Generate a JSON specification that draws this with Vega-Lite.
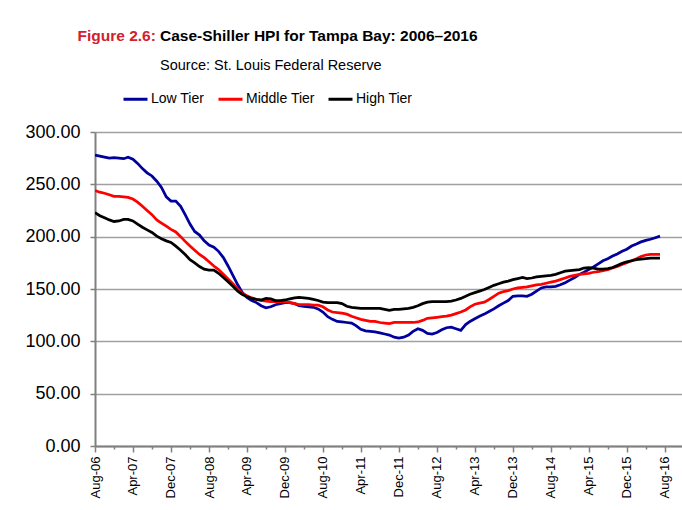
{
  "$schema": "https://vega.github.io/schema/vega-lite/v6.json",
  "width": 587,
  "height": 314,
  "autosize": {"type": "none"},
  "padding": {"left": 95, "top": 132, "right": 0, "bottom": 64},
  "background": "white",
  "config": {
    "view": {"stroke": null},
    "font": "Liberation Sans",
    "axisY": {"labelFontSize": 18}
  },
  "title": {
    "text": "Case-Shiller HPI for Tampa Bay: 2006–2016",
    "subtitle": "Source: St. Louis Federal Reserve",
    "anchor": "start",
    "frame": "group",
    "dx": 65,
    "offset": -44,
    "font": "Liberation Sans",
    "fontSize": 15.5,
    "fontWeight": "bold",
    "color": "#000000",
    "subtitleFont": "Liberation Sans",
    "subtitleFontSize": 14.5,
    "subtitleColor": "#000000",
    "subtitlePadding": 14
  },
  "data": {
    "values": [
      {"date":"2006-08","Low Tier":278,"Middle Tier":244,"High Tier":223},
      {"date":"2006-09","Low Tier":277,"Middle Tier":242.5,"High Tier":220},
      {"date":"2006-10","Low Tier":276,"Middle Tier":241.5,"High Tier":218},
      {"date":"2006-11","Low Tier":275,"Middle Tier":240,"High Tier":216},
      {"date":"2006-12","Low Tier":275.5,"Middle Tier":238.5,"High Tier":214.5},
      {"date":"2007-01","Low Tier":275,"Middle Tier":238.5,"High Tier":215},
      {"date":"2007-02","Low Tier":274.5,"Middle Tier":238,"High Tier":216.5},
      {"date":"2007-03","Low Tier":276,"Middle Tier":237.5,"High Tier":216.5},
      {"date":"2007-04","Low Tier":274,"Middle Tier":236,"High Tier":215},
      {"date":"2007-05","Low Tier":270,"Middle Tier":233,"High Tier":212},
      {"date":"2007-06","Low Tier":265,"Middle Tier":229,"High Tier":209},
      {"date":"2007-07","Low Tier":261,"Middle Tier":225,"High Tier":206.5},
      {"date":"2007-08","Low Tier":258,"Middle Tier":221,"High Tier":204},
      {"date":"2007-09","Low Tier":253,"Middle Tier":216,"High Tier":200.5},
      {"date":"2007-10","Low Tier":247,"Middle Tier":213,"High Tier":198},
      {"date":"2007-11","Low Tier":238,"Middle Tier":210,"High Tier":196},
      {"date":"2007-12","Low Tier":234,"Middle Tier":207,"High Tier":194.5},
      {"date":"2008-01","Low Tier":234,"Middle Tier":204.5,"High Tier":191},
      {"date":"2008-02","Low Tier":229,"Middle Tier":200,"High Tier":187},
      {"date":"2008-03","Low Tier":221,"Middle Tier":195.5,"High Tier":183},
      {"date":"2008-04","Low Tier":212,"Middle Tier":191,"High Tier":178},
      {"date":"2008-05","Low Tier":205,"Middle Tier":187,"High Tier":175},
      {"date":"2008-06","Low Tier":201.5,"Middle Tier":183,"High Tier":171.5},
      {"date":"2008-07","Low Tier":196,"Middle Tier":180,"High Tier":169},
      {"date":"2008-08","Low Tier":192,"Middle Tier":176,"High Tier":168},
      {"date":"2008-09","Low Tier":190,"Middle Tier":172,"High Tier":168},
      {"date":"2008-10","Low Tier":186,"Middle Tier":168.5,"High Tier":165},
      {"date":"2008-11","Low Tier":180,"Middle Tier":164,"High Tier":161},
      {"date":"2008-12","Low Tier":172,"Middle Tier":159.5,"High Tier":157},
      {"date":"2009-01","Low Tier":163,"Middle Tier":155,"High Tier":152.5},
      {"date":"2009-02","Low Tier":154,"Middle Tier":150,"High Tier":148},
      {"date":"2009-03","Low Tier":147,"Middle Tier":146,"High Tier":145},
      {"date":"2009-04","Low Tier":142,"Middle Tier":143.5,"High Tier":142.5},
      {"date":"2009-05","Low Tier":139,"Middle Tier":141.5,"High Tier":141},
      {"date":"2009-06","Low Tier":137,"Middle Tier":140,"High Tier":140},
      {"date":"2009-07","Low Tier":134,"Middle Tier":139,"High Tier":139.5},
      {"date":"2009-08","Low Tier":132,"Middle Tier":138.5,"High Tier":141},
      {"date":"2009-09","Low Tier":133,"Middle Tier":138,"High Tier":140.5},
      {"date":"2009-10","Low Tier":135,"Middle Tier":138,"High Tier":139},
      {"date":"2009-11","Low Tier":136,"Middle Tier":138,"High Tier":139},
      {"date":"2009-12","Low Tier":137,"Middle Tier":138,"High Tier":139.5},
      {"date":"2010-01","Low Tier":137,"Middle Tier":137,"High Tier":140.5},
      {"date":"2010-02","Low Tier":136,"Middle Tier":136,"High Tier":141.5},
      {"date":"2010-03","Low Tier":134,"Middle Tier":135,"High Tier":142},
      {"date":"2010-04","Low Tier":133.5,"Middle Tier":135,"High Tier":141.5},
      {"date":"2010-05","Low Tier":133,"Middle Tier":135,"High Tier":141},
      {"date":"2010-06","Low Tier":132.5,"Middle Tier":134.5,"High Tier":140},
      {"date":"2010-07","Low Tier":131,"Middle Tier":134.5,"High Tier":139},
      {"date":"2010-08","Low Tier":128,"Middle Tier":133,"High Tier":137.5},
      {"date":"2010-09","Low Tier":123.5,"Middle Tier":130,"High Tier":137},
      {"date":"2010-10","Low Tier":121,"Middle Tier":128,"High Tier":137},
      {"date":"2010-11","Low Tier":119,"Middle Tier":127.5,"High Tier":137},
      {"date":"2010-12","Low Tier":118.5,"Middle Tier":127,"High Tier":136},
      {"date":"2011-01","Low Tier":118,"Middle Tier":126,"High Tier":133.5},
      {"date":"2011-02","Low Tier":117.5,"Middle Tier":124,"High Tier":132.5},
      {"date":"2011-03","Low Tier":115,"Middle Tier":122.5,"High Tier":132},
      {"date":"2011-04","Low Tier":111.5,"Middle Tier":121,"High Tier":131.5},
      {"date":"2011-05","Low Tier":110,"Middle Tier":120,"High Tier":131.5},
      {"date":"2011-06","Low Tier":109.5,"Middle Tier":119,"High Tier":131.5},
      {"date":"2011-07","Low Tier":109,"Middle Tier":119,"High Tier":131.5},
      {"date":"2011-08","Low Tier":108,"Middle Tier":118,"High Tier":131.5},
      {"date":"2011-09","Low Tier":107,"Middle Tier":117.5,"High Tier":130.5},
      {"date":"2011-10","Low Tier":106,"Middle Tier":117,"High Tier":129.5},
      {"date":"2011-11","Low Tier":104,"Middle Tier":118,"High Tier":130.5},
      {"date":"2011-12","Low Tier":103,"Middle Tier":118,"High Tier":130.5},
      {"date":"2012-01","Low Tier":104,"Middle Tier":118,"High Tier":131},
      {"date":"2012-02","Low Tier":106,"Middle Tier":118,"High Tier":131.5},
      {"date":"2012-03","Low Tier":109.5,"Middle Tier":118,"High Tier":132.5},
      {"date":"2012-04","Low Tier":112,"Middle Tier":118.5,"High Tier":134},
      {"date":"2012-05","Low Tier":110.5,"Middle Tier":120,"High Tier":136},
      {"date":"2012-06","Low Tier":107.5,"Middle Tier":122,"High Tier":137.5},
      {"date":"2012-07","Low Tier":107,"Middle Tier":122.5,"High Tier":138},
      {"date":"2012-08","Low Tier":108.5,"Middle Tier":123,"High Tier":138},
      {"date":"2012-09","Low Tier":111,"Middle Tier":123.5,"High Tier":138},
      {"date":"2012-10","Low Tier":113,"Middle Tier":124,"High Tier":138},
      {"date":"2012-11","Low Tier":113.5,"Middle Tier":125,"High Tier":138.5},
      {"date":"2012-12","Low Tier":112,"Middle Tier":126.5,"High Tier":139.5},
      {"date":"2013-01","Low Tier":110.5,"Middle Tier":128,"High Tier":141},
      {"date":"2013-02","Low Tier":116,"Middle Tier":130,"High Tier":143},
      {"date":"2013-03","Low Tier":119,"Middle Tier":133,"High Tier":145},
      {"date":"2013-04","Low Tier":121.5,"Middle Tier":135.5,"High Tier":146.5},
      {"date":"2013-05","Low Tier":124,"Middle Tier":136.5,"High Tier":148},
      {"date":"2013-06","Low Tier":126,"Middle Tier":137.5,"High Tier":149.5},
      {"date":"2013-07","Low Tier":128.5,"Middle Tier":140,"High Tier":151.5},
      {"date":"2013-08","Low Tier":131,"Middle Tier":143,"High Tier":153.5},
      {"date":"2013-09","Low Tier":134,"Middle Tier":146,"High Tier":155},
      {"date":"2013-10","Low Tier":136.5,"Middle Tier":147.5,"High Tier":156.5},
      {"date":"2013-11","Low Tier":139,"Middle Tier":148.5,"High Tier":157.5},
      {"date":"2013-12","Low Tier":143,"Middle Tier":150,"High Tier":159},
      {"date":"2014-01","Low Tier":143.5,"Middle Tier":151,"High Tier":160},
      {"date":"2014-02","Low Tier":143.5,"Middle Tier":151.5,"High Tier":161},
      {"date":"2014-03","Low Tier":143,"Middle Tier":152,"High Tier":160},
      {"date":"2014-04","Low Tier":145,"Middle Tier":153,"High Tier":160.5},
      {"date":"2014-05","Low Tier":148,"Middle Tier":154,"High Tier":161.5},
      {"date":"2014-06","Low Tier":151,"Middle Tier":154.5,"High Tier":162},
      {"date":"2014-07","Low Tier":152,"Middle Tier":155.5,"High Tier":162.5},
      {"date":"2014-08","Low Tier":152,"Middle Tier":156.5,"High Tier":163},
      {"date":"2014-09","Low Tier":152.5,"Middle Tier":157.5,"High Tier":164},
      {"date":"2014-10","Low Tier":154,"Middle Tier":159,"High Tier":165.5},
      {"date":"2014-11","Low Tier":156,"Middle Tier":160.5,"High Tier":167},
      {"date":"2014-12","Low Tier":158.5,"Middle Tier":162,"High Tier":167.5},
      {"date":"2015-01","Low Tier":161,"Middle Tier":163,"High Tier":168},
      {"date":"2015-02","Low Tier":164,"Middle Tier":164,"High Tier":168.5},
      {"date":"2015-03","Low Tier":166,"Middle Tier":164.5,"High Tier":170},
      {"date":"2015-04","Low Tier":168.5,"Middle Tier":165,"High Tier":170.5},
      {"date":"2015-05","Low Tier":171,"Middle Tier":166,"High Tier":170},
      {"date":"2015-06","Low Tier":174,"Middle Tier":166.5,"High Tier":169},
      {"date":"2015-07","Low Tier":177,"Middle Tier":167.5,"High Tier":169},
      {"date":"2015-08","Low Tier":179,"Middle Tier":168.5,"High Tier":169.5},
      {"date":"2015-09","Low Tier":181.5,"Middle Tier":170,"High Tier":170.5},
      {"date":"2015-10","Low Tier":183.5,"Middle Tier":171.5,"High Tier":172.5},
      {"date":"2015-11","Low Tier":186,"Middle Tier":173.5,"High Tier":174.5},
      {"date":"2015-12","Low Tier":188,"Middle Tier":175,"High Tier":176},
      {"date":"2016-01","Low Tier":191,"Middle Tier":177,"High Tier":177},
      {"date":"2016-02","Low Tier":193,"Middle Tier":179,"High Tier":178},
      {"date":"2016-03","Low Tier":195,"Middle Tier":181,"High Tier":178.5},
      {"date":"2016-04","Low Tier":196.5,"Middle Tier":182.5,"High Tier":179},
      {"date":"2016-05","Low Tier":197.5,"Middle Tier":183,"High Tier":179.5},
      {"date":"2016-06","Low Tier":199,"Middle Tier":183,"High Tier":179.5},
      {"date":"2016-07","Low Tier":200.5,"Middle Tier":183,"High Tier":179.5}
    ],
    "format": {"parse": {"date": "date:'%Y-%m'"}}
  },
  "transform": [
    {"fold": ["Low Tier", "Middle Tier", "High Tier"], "as": ["tier", "value"]}
  ],
  "mark": {"type": "line", "strokeWidth": 2.75, "clip": true},
  "encoding": {
    "x": {
      "field": "date",
      "type": "temporal",
      "scale": {"domain": [{"year": 2006, "month": 8, "date": 1}, {"year": 2016, "month": 11, "date": 19}]},
      "axis": {
        "title": null,
        "values": [
          {"year": 2006, "month": 8, "date": 1}, {"year": 2006, "month": 12, "date": 1},
          {"year": 2007, "month": 4, "date": 1}, {"year": 2007, "month": 8, "date": 1}, {"year": 2007, "month": 12, "date": 1},
          {"year": 2008, "month": 4, "date": 1}, {"year": 2008, "month": 8, "date": 1}, {"year": 2008, "month": 12, "date": 1},
          {"year": 2009, "month": 4, "date": 1}, {"year": 2009, "month": 8, "date": 1}, {"year": 2009, "month": 12, "date": 1},
          {"year": 2010, "month": 4, "date": 1}, {"year": 2010, "month": 8, "date": 1}, {"year": 2010, "month": 12, "date": 1},
          {"year": 2011, "month": 4, "date": 1}, {"year": 2011, "month": 8, "date": 1}, {"year": 2011, "month": 12, "date": 1},
          {"year": 2012, "month": 4, "date": 1}, {"year": 2012, "month": 8, "date": 1}, {"year": 2012, "month": 12, "date": 1},
          {"year": 2013, "month": 4, "date": 1}, {"year": 2013, "month": 8, "date": 1}, {"year": 2013, "month": 12, "date": 1},
          {"year": 2014, "month": 4, "date": 1}, {"year": 2014, "month": 8, "date": 1}, {"year": 2014, "month": 12, "date": 1},
          {"year": 2015, "month": 4, "date": 1}, {"year": 2015, "month": 8, "date": 1}, {"year": 2015, "month": 12, "date": 1},
          {"year": 2016, "month": 4, "date": 1}, {"year": 2016, "month": 8, "date": 1}
        ],
        "labelExpr": "((year(datum.value) - 2006) * 12 + month(datum.value) - 7) % 8 == 0 ? timeFormat(datum.value, '%b-%y') : ''",
        "labelAngle": -90,
        "labelAlign": "right",
        "labelBaseline": "middle",
        "labelFont": "Liberation Sans",
        "labelFontSize": 13,
        "labelColor": "#000000",
        "labelPadding": 4,
        "labelOverlap": false,
        "labelFlush": false,
        "tickColor": "#808080",
        "tickWidth": 1.5,
        "tickSize": {"condition": {"test": "((year(datum.value) - 2006) * 12 + month(datum.value) - 7) % 8 == 0", "value": 6}, "value": 3},
        "domainColor": "#808080",
        "domainWidth": 2,
        "grid": false
      }
    },
    "y": {
      "field": "value",
      "type": "quantitative",
      "scale": {"domain": [0, 300], "nice": false},
      "axis": {
        "values": [0, 50, 100, 150, 200, 250, 300],
        "format": ".2f",
        "labelFont": "Liberation Sans",
        "labelFontSize": 18,
        "labelColor": "#000000",
        "labelPadding": 10,
        "tickSize": 5,
        "tickColor": "#808080",
        "tickWidth": 1.5,
        "domainColor": "#808080",
        "domainWidth": 2,
        "grid": true,
        "gridColor": "#a0a0a0",
        "gridWidth": 1.5,
        "title": "Figure 2.6:",
        "titleAngle": 0,
        "titleAlign": "left",
        "titleBaseline": "alphabetic",
        "titleX": -18,
        "titleY": -92,
        "titleColor": "#d2202f",
        "titleFont": "Liberation Sans",
        "titleFontSize": 15.5,
        "titleFontWeight": "bold"
      }
    },
    "color": {
      "field": "tier",
      "type": "nominal",
      "sort": ["Low Tier", "Middle Tier", "High Tier"],
      "scale": {"domain": ["Low Tier", "Middle Tier", "High Tier"], "range": ["#00009c", "#ff0000", "#000000"]},
      "legend": {
        "title": null,
        "orient": "none",
        "legendX": 27,
        "legendY": -46.5,
        "direction": "horizontal",
        "columns": 3,
        "symbolType": "stroke",
        "symbolSize": 576,
        "symbolStrokeWidth": 3,
        "labelFont": "Liberation Sans",
        "labelFontSize": 14,
        "labelColor": "#000000",
        "labelOffset": 2,
        "columnPadding": 7,
        "padding": 0
      }
    }
  }
}
